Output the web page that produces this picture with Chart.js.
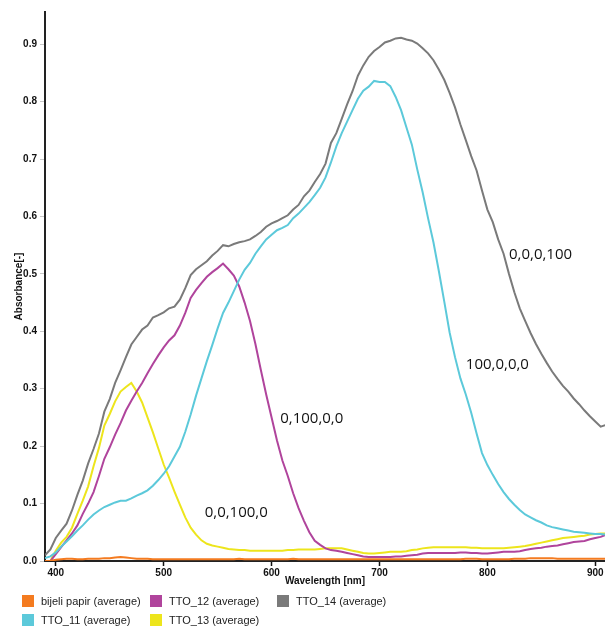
<!DOCTYPE html>
<html>
<head>
<meta charset="utf-8">
<script src="https://cdn.jsdelivr.net/npm/chart.js@4"></script>
<style>
  html, body { margin: 0; padding: 0; background: #fff; }
  #wrap { position: relative; width: 605px; height: 626px; overflow: hidden; }
  canvas { position: absolute; left: 0; top: 0; }
  .lg { position: absolute; font: 11px "Liberation Sans", Arial, sans-serif; color: #222; white-space: nowrap; line-height: 12px; }
  .lg span.sw { position: absolute; left: 0; top: 0; width: 12px; height: 12px; }
  .lg span.tx { position: absolute; left: 19px; top: 0; }
</style>
</head>
<body>
<div id="wrap">
  <canvas id="c" width="605" height="626"></canvas>
  <div id="legend"></div>
</div>
<script>
// ---- data ----
const wavelengths = [];
for (let w = 390; w <= 910; w += 5) wavelengths.push(w);

const seriesNames = ["bijeli papir (average)", "TTO_11 (average)", "TTO_12 (average)", "TTO_13 (average)", "TTO_14 (average)"];

const bijeliPapir = [
  0.000,0.000,0.002,0.003,0.004,0.004,0.003,0.003,0.004,0.004,
  0.004,0.005,0.005,0.006,0.007,0.006,0.005,0.004,0.004,0.004,
  0.003,0.003,0.003,0.003,0.003,0.003,0.003,0.003,0.003,0.003,
  0.003,0.003,0.003,0.003,0.003,0.003,0.004,0.003,0.003,0.003,
  0.003,0.003,0.003,0.003,0.003,0.003,0.004,0.003,0.003,0.003,
  0.003,0.003,0.003,0.003,0.003,0.003,0.003,0.003,0.003,0.003,
  0.003,0.003,0.003,0.003,0.003,0.003,0.003,0.003,0.003,0.003,
  0.003,0.003,0.003,0.003,0.003,0.003,0.003,0.003,0.004,0.004,
  0.004,0.003,0.003,0.003,0.003,0.003,0.003,0.004,0.004,0.004,
  0.005,0.005,0.005,0.005,0.005,0.004,0.004,0.004,0.004,0.004,
  0.004,0.004,0.004,0.004,0.004
];

const tto11 = [
  0.005,0.008,0.015,0.025,0.034,0.043,0.053,0.062,0.072,0.081,
  0.088,0.094,0.098,0.102,0.105,0.105,0.109,0.114,0.118,0.123,
  0.131,0.141,0.152,0.165,0.182,0.199,0.225,0.255,0.288,0.318,
  0.348,0.376,0.405,0.432,0.450,0.470,0.490,0.507,0.519,0.535,
  0.548,0.560,0.568,0.576,0.580,0.585,0.597,0.605,0.615,0.625,
  0.637,0.650,0.668,0.694,0.722,0.745,0.765,0.785,0.805,0.819,
  0.826,0.836,0.834,0.834,0.827,0.808,0.785,0.755,0.725,0.682,
  0.642,0.597,0.555,0.505,0.452,0.398,0.355,0.318,0.290,0.258,
  0.222,0.188,0.167,0.150,0.134,0.120,0.108,0.098,0.089,0.081,
  0.076,0.071,0.067,0.062,0.059,0.057,0.055,0.053,0.051,0.050,
  0.049,0.048,0.047,0.047,0.046
];

const tto12 = [
  0.000,0.000,0.012,0.024,0.036,0.048,0.062,0.082,0.100,0.120,
  0.148,0.178,0.198,0.220,0.240,0.262,0.279,0.295,0.310,0.327,
  0.343,0.358,0.372,0.384,0.393,0.410,0.432,0.458,0.472,0.484,
  0.495,0.503,0.510,0.518,0.508,0.497,0.478,0.450,0.418,0.378,
  0.333,0.290,0.250,0.210,0.175,0.148,0.118,0.092,0.070,0.050,
  0.035,0.028,0.022,0.019,0.018,0.016,0.014,0.012,0.010,0.008,
  0.007,0.007,0.007,0.007,0.007,0.008,0.008,0.009,0.010,0.011,
  0.013,0.014,0.014,0.014,0.014,0.014,0.014,0.015,0.015,0.014,
  0.014,0.013,0.013,0.014,0.015,0.016,0.016,0.016,0.017,0.019,
  0.021,0.022,0.023,0.025,0.026,0.027,0.029,0.031,0.033,0.034,
  0.035,0.038,0.040,0.042,0.046
];

const tto13 = [
  0.000,0.000,0.018,0.032,0.042,0.058,0.082,0.105,0.130,0.165,
  0.197,0.236,0.256,0.278,0.295,0.303,0.310,0.295,0.276,0.250,
  0.224,0.196,0.168,0.145,0.121,0.098,0.076,0.058,0.046,0.036,
  0.030,0.027,0.025,0.023,0.021,0.020,0.019,0.019,0.018,0.018,
  0.018,0.018,0.018,0.018,0.018,0.019,0.019,0.020,0.020,0.020,
  0.020,0.021,0.022,0.022,0.022,0.022,0.020,0.018,0.016,0.014,
  0.013,0.013,0.014,0.015,0.016,0.016,0.016,0.017,0.019,0.020,
  0.022,0.023,0.024,0.024,0.024,0.024,0.024,0.024,0.024,0.023,
  0.023,0.022,0.022,0.022,0.022,0.022,0.023,0.024,0.025,0.026,
  0.028,0.030,0.032,0.034,0.036,0.038,0.040,0.041,0.042,0.043,
  0.044,0.046,0.047,0.048,0.048
];

const tto14 = [
  0.010,0.020,0.040,0.053,0.065,0.088,0.115,0.140,0.170,0.195,
  0.222,0.260,0.282,0.310,0.332,0.355,0.377,0.390,0.403,0.410,
  0.424,0.428,0.433,0.440,0.443,0.455,0.475,0.498,0.508,0.515,
  0.522,0.532,0.540,0.550,0.548,0.552,0.555,0.557,0.560,0.566,
  0.573,0.582,0.588,0.592,0.597,0.602,0.612,0.620,0.635,0.645,
  0.660,0.674,0.692,0.728,0.745,0.770,0.795,0.818,0.845,0.863,
  0.878,0.888,0.895,0.903,0.906,0.910,0.911,0.908,0.906,0.901,
  0.893,0.884,0.872,0.856,0.838,0.815,0.790,0.760,0.733,0.705,
  0.680,0.645,0.612,0.590,0.560,0.535,0.500,0.468,0.440,0.418,
  0.397,0.378,0.361,0.345,0.330,0.317,0.305,0.295,0.283,0.273,
  0.262,0.252,0.243,0.234,0.237
];

const seriesColors = ["#f47b20", "#5cc9da", "#b0449c", "#ede51c", "#7a7a7a"];

const xTicks = [400, 500, 600, 700, 800, 900];
const yTicks = [0.0, 0.1, 0.2, 0.3, 0.4, 0.5, 0.6, 0.7, 0.8, 0.9];

const annLabels = ["0,0,0,100", "100,0,0,0", "0,100,0,0", "0,0,100,0"];
const annX = [820, 780, 608, 538];
const annY = [0.533, 0.341, 0.247, 0.084];

// ---- chart ----
const allSeries = [bijeliPapir, tto11, tto12, tto13, tto14];
const datasets = allSeries.map((vals, i) => ({
  label: seriesNames[i],
  data: wavelengths.map((w, k) => ({ x: w, y: vals[k] })),
  borderColor: seriesColors[i],
  backgroundColor: seriesColors[i],
  borderWidth: 2,
  pointRadius: 0,
  tension: 0,
  fill: false
}));

const annPlugin = {
  id: 'ann',
  afterDatasetsDraw(chart) {
    const ctx = chart.ctx, xs = chart.scales.x, ys = chart.scales.y;
    ctx.save();
    ctx.font = '15px "Open Sans", sans-serif';
    ctx.fillStyle = '#111';
    ctx.textAlign = 'left';
    ctx.textBaseline = 'middle';
    annLabels.forEach((t, i) => {
      ctx.fillText(t, xs.getPixelForValue(annX[i]), ys.getPixelForValue(annY[i]));
    });
    ctx.restore();
  }
};

const tickFont = { family: '"Liberation Sans", Arial, sans-serif', size: 10, weight: 'bold' };

new Chart(document.getElementById('c'), {
  type: 'line',
  data: { datasets },
  options: {
    responsive: false,
    animation: false,
    devicePixelRatio: 1,
    layout: { padding: { top: 12, left: 0, right: 0, bottom: 39 } },
    plugins: { legend: { display: false }, tooltip: { enabled: false } },
    scales: {
      x: {
        type: 'linear',
        min: 390, max: 909,
        afterBuildTicks(s) { s.ticks = xTicks.map(v => ({ value: v })); },
        afterFit(s) { s.height = 26; s.paddingLeft = 0; s.paddingRight = 0; },
        ticks: { font: tickFont, color: '#111', padding: 1, maxRotation: 0, callback: v => String(v) },
        grid: { drawOnChartArea: false, drawTicks: true, tickLength: 5, color: '#111', tickWidth: 1.5 },
        border: { display: true, color: '#222', width: 2 },
        title: { display: true, text: 'Wavelength [nm]', font: tickFont, color: '#111', padding: { top: 0, bottom: 0 } }
      },
      y: {
        type: 'linear',
        min: 0, max: 0.956,
        afterBuildTicks(s) { s.ticks = yTicks.map(v => ({ value: v })); },
        afterFit(s) { s.width = 45; s.paddingTop = 0; s.paddingBottom = 0; },
        ticks: { font: tickFont, color: '#111', padding: 3, callback: v => Number(v).toFixed(1) },
        grid: { drawOnChartArea: false, drawTicks: true, tickLength: 5, color: '#c8c8c8' },
        border: { display: true, color: '#222', width: 2 },
        title: { display: true, text: 'Absorbance[-]', font: tickFont, color: '#111', padding: { top: 13, bottom: 0 } }
      }
    }
  },
  plugins: [annPlugin]
});

// ---- legend (column-major, 3 columns) ----
const legendCols = [22, 150, 277];
const legendRows = [595, 614];
const lg = document.getElementById('legend');
seriesNames.forEach((name, i) => {
  const col = Math.floor(i / 2), row = i % 2;
  const d = document.createElement('div');
  d.className = 'lg';
  d.style.left = legendCols[col] + 'px';
  d.style.top = legendRows[row] + 'px';
  d.innerHTML = '<span class="sw" style="background:' + seriesColors[i] + '"></span><span class="tx">' + name + '</span>';
  lg.appendChild(d);
});
</script>
</body>
</html>
